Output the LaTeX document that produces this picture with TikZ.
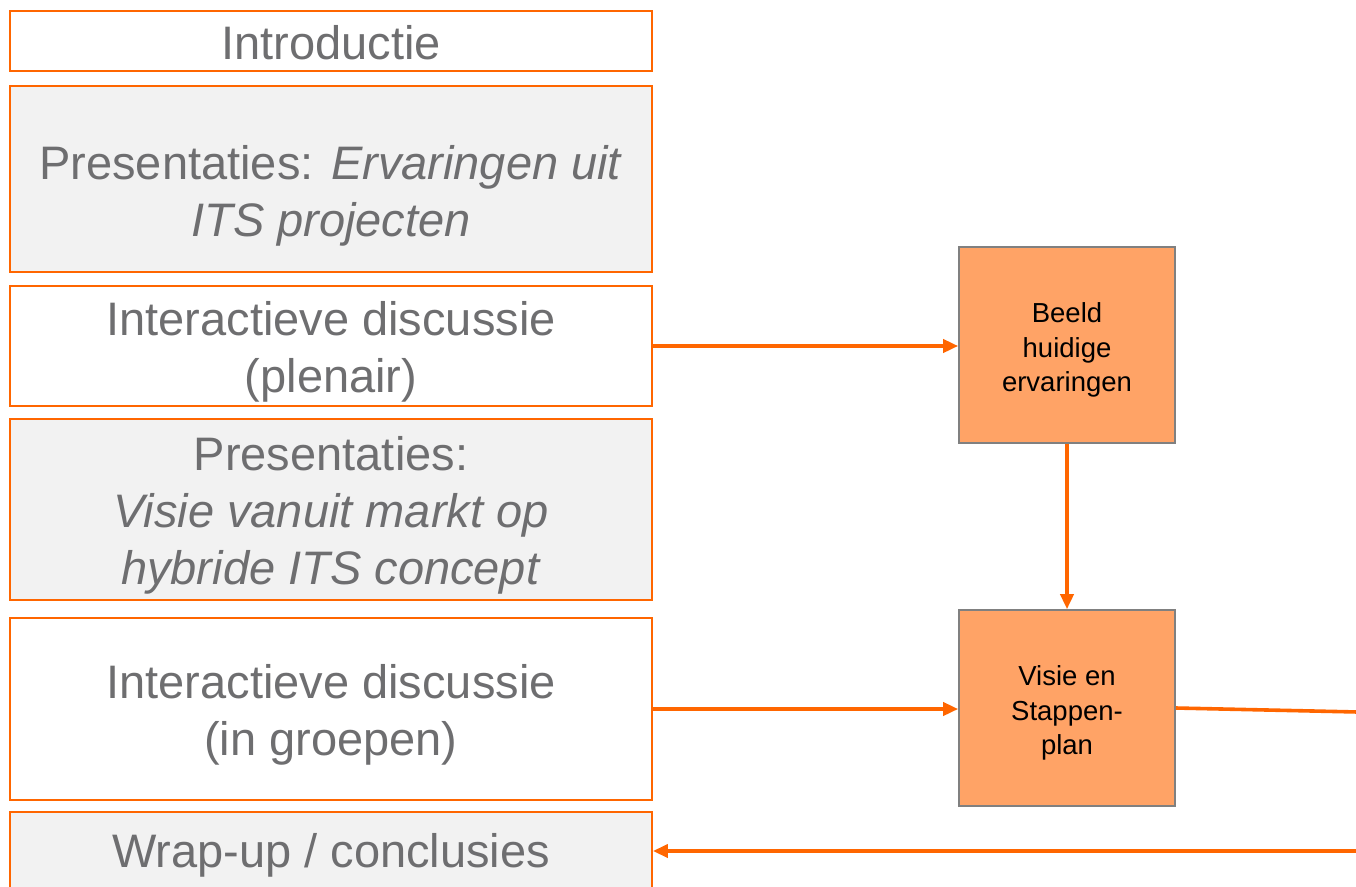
\documentclass[tikz,border=0pt]{standalone}
\usepackage{fontspec}
\setmainfont{Liberation Sans}
\usetikzlibrary{arrows.meta}
\definecolor{orng}{RGB}{255,102,0}
\definecolor{lightorng}{RGB}{255,163,102}
\definecolor{boxgray}{RGB}{242,242,242}
\definecolor{txtgray}{RGB}{110,110,112}
\definecolor{bordergray}{RGB}{128,128,128}
\tikzset{
  agenda/.style={draw=orng, line width=1.8pt, minimum width=642pt, inner sep=0pt},
  whitebox/.style={agenda, fill=white},
  graybox/.style={agenda, fill=boxgray},
  agendatext/.style={align=center, text=txtgray, inner sep=0pt, font=\fontsize{47}{57}\selectfont},
  resultbox/.style={draw=bordergray, line width=1.6pt, fill=lightorng, minimum width=216pt,
    minimum height=196pt, inner sep=0pt},
  resulttext/.style={align=center, text=black, inner sep=0pt, font=\fontsize{27.5}{34.5}\selectfont},
  conn/.style={draw=orng, line width=3.6pt},
  arr/.style={conn, -{Triangle[length=15pt,width=13pt]}}
}
\begin{document}
\begin{tikzpicture}[x=1pt,y=1pt]
\useasboundingbox (0,0) rectangle (1356,-886);
\clip (0,0) rectangle (1356,-886);
\fill[white] (0,0) rectangle (1356,-886);
\node[whitebox, minimum height=60pt] (b1) at (331,-41) {};
\node[agendatext] (b1t) at ([yshift=-2pt]b1.center) {Introductie};
\node[graybox, minimum height=186pt] (b2) at (331,-179) {};
\node[agendatext] (b2t) at ([yshift=-17pt]b2.center) {Presentaties: \textit{Ervaringen uit}\\\textit{ITS projecten}};
\node[whitebox, minimum height=120pt] (b3) at (331,-346) {};
\node[agendatext] (b3t) at ([yshift=-6pt]b3.center) {Interactieve discussie\\(plenair)};
\node[graybox, minimum height=181pt] (b4) at (331,-509.5) {};
\node[agendatext] (b4t) at ([yshift=-6pt]b4.center) {Presentaties:\\\textit{Visie vanuit markt op}\\\textit{hybride ITS concept}};
\node[whitebox, minimum height=182pt] (b5) at (331,-709) {};
\node[agendatext] (b5t) at ([yshift=-6pt]b5.center) {Interactieve discussie\\(in groepen)};
\node[graybox, minimum height=78pt] (b6) at (331,-851) {};
\node[agendatext] (b6t) at ([yshift=-4pt]b6.center) {Wrap-up / conclusies};
\node[resultbox] (r1) at (1067,-345) {};
\node[resulttext] (r1t) at ([yshift=-5pt]r1.center) {Beeld\\huidige\\ervaringen};
\node[resultbox] (r2) at (1067,-708) {};
\node[resulttext] (r2t) at ([yshift=-5pt]r2.center) {Visie en\\Stappen-\\plan};
\coordinate (out) at (1358,-712);
\coordinate (back) at (1358,-851);
\draw[arr] (b3.east) -- (b3.east -| r1.west);
\draw[arr] (r1.south) -- (r2.north);
\draw[arr] (b5.east) -- (b5.east -| r2.west);
\draw[conn] (r2.east) -- (out);
\draw[arr] (back) -- (b6.east);
\end{tikzpicture}
\end{document}
